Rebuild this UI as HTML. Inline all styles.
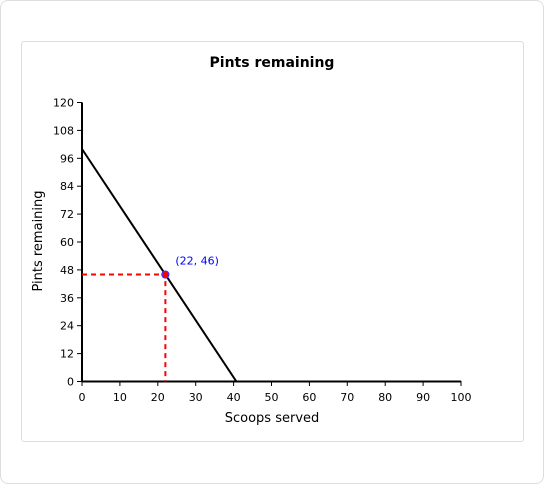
<!DOCTYPE html>
<html><head><meta charset="utf-8"><style>
body{margin:0;background:#fff;font-family:"DejaVu Sans","Liberation Sans",sans-serif;}
#card{position:absolute;left:0;top:0;width:542px;height:482px;border:1px solid #ddd;border-radius:8px;background:#fff;}
#panel{position:absolute;left:21px;top:41px;width:501px;height:399px;border:1px solid #ddd;border-radius:3px;}
</style></head><body>
<div id="card"></div>
<div id="panel"></div>
<svg id="chart" width="544" height="484" style="position:absolute;left:0;top:0">
<text x="272" y="67" text-anchor="middle" font-size="14" font-weight="bold" font-family="DejaVu Sans, Liberation Sans, sans-serif">Pints remaining</text>
<text x="272" y="422" text-anchor="middle" font-size="13">Scoops served</text>
<text transform="translate(42,241) rotate(-90)" text-anchor="middle" font-size="13">Pints remaining</text>
</svg>
<script>
const xTicks=[0,10,20,30,40,50,60,70,80,90,100];
const yTicks=[0,12,24,36,48,60,72,84,96,108,120];
const lineX=[0,40.74,100];
const lineY=[100,0,0];
const pointX=[22];
const pointY=[46];
const pointLabels=["(22, 46)"];
const svg=document.getElementById('chart');
const NS='http://www.w3.org/2000/svg';
const X=v=>82+v*3.79, Y=v=>381.5-v*2.325;
function mk(t,a){const e=document.createElementNS(NS,t);for(const k in a)e.setAttribute(k,a[k]);svg.appendChild(e);return e;}
xTicks.forEach(v=>{
  const t=mk('line',{x1:X(v),x2:X(v),y1:381,y2:386,stroke:'#000'});
  
  
  const l=mk('text',{x:X(v),y:401,'text-anchor':'middle','font-size':11});l.textContent=v;
  
  
});
yTicks.forEach(v=>{
  const t=mk('line',{x1:77,x2:82,y1:Y(v),y2:Y(v),stroke:'#000'});
  
  
  const l=mk('text',{x:74,y:Y(v)+4,'text-anchor':'end','font-size':11});l.textContent=v;
  
  
});
const xa=mk('line',{x1:82,x2:X(100),y1:381.5,y2:381.5,stroke:'#000','stroke-width':2});


const ya=mk('line',{x1:82,x2:82,y1:Y(120),y2:381.5,stroke:'#000','stroke-width':2});


const ln=mk('polyline',{points:lineX.map((x,i)=>X(x)+','+Y(lineY[i])).join(' '),fill:'none',stroke:'#000','stroke-width':2});


pointX.forEach((px,i)=>{
  const py=pointY[i];
  const g=mk('path',{d:`M${X(0)},${Y(py)}H${X(px)}V${Y(0)}`,fill:'none',stroke:'#f00','stroke-width':2,'stroke-dasharray':'5,4'});
  
  
  const c=mk('circle',{cx:X(px),cy:Y(py),r:3.5,fill:'#f00',stroke:'#33f','stroke-width':1.2});
  
  
  const t=mk('text',{x:X(px)+10,y:Y(py)-10,'font-size':11,fill:'#00f'});t.textContent=pointLabels[i];
  
  
});
</script>
</body></html>
